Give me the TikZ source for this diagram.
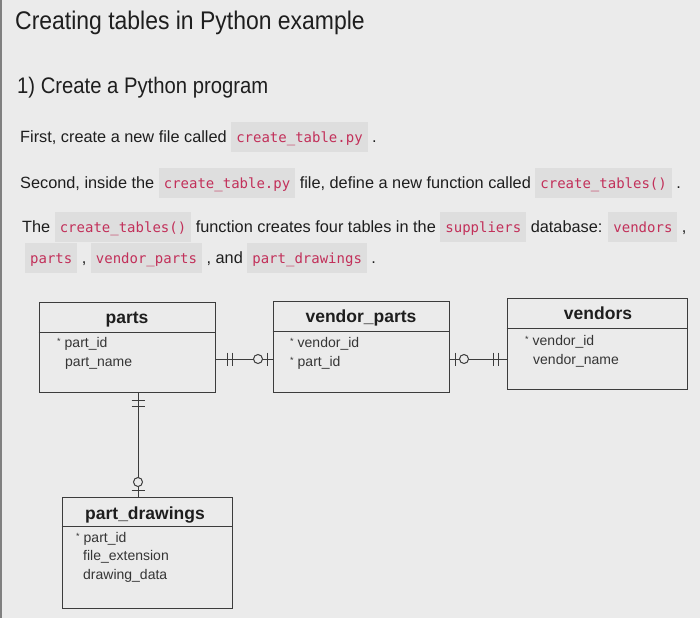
\documentclass[tikz,border=0pt]{standalone}
\usepackage{fontspec}
\setmainfont{Liberation Sans}
\setmonofont{DejaVu Sans Mono}
\newfontfamily\headfont[FakeStretch=0.9]{Liberation Sans}

\definecolor{pagebg}{HTML}{EBEBEB}
\definecolor{codebg}{HTML}{DEDEDE}
\definecolor{codered}{HTML}{C2305A}
\definecolor{ink}{HTML}{1E1E1E}
\definecolor{rule}{HTML}{3C3C3C}

\newcommand{\pyword}[1]{{\setlength{\fboxsep}{5pt}\colorbox{codebg}{\ttfamily\fontsize{14}{17}\selectfont\color{codered}\rule[-5pt]{0pt}{20pt}#1}}}
\newcommand{\keystar}{{\fontsize{9}{9}\selectfont\raisebox{3pt}{*}}\hspace{4pt}}

\begin{document}
\begin{tikzpicture}[x=1pt,y=-1pt]

\tikzstyle{textline}=[anchor=base west,inner sep=0pt,text=ink,font=\fontsize{16.3}{19}\selectfont]
\tikzstyle{table}=[rectangle,draw=rule,line width=1pt,fill=pagebg,inner sep=0pt]
\tikzstyle{tabletitle}=[anchor=base,inner sep=0pt,text=ink,font=\bfseries\fontsize{17.5}{20}\selectfont]
\tikzstyle{field}=[anchor=base west,inner sep=0pt,text=ink!90,font=\fontsize{14}{16}\selectfont]
\tikzstyle{link}=[draw=rule,line width=1pt]

\fill[pagebg] (0,0) rectangle (700,618);
\useasboundingbox (0,0) rectangle (700,618);
\draw[gray,line width=1.5pt] (1,0) -- (1,618);

% text
\node[textline,font=\headfont\fontsize{25.5}{30}\selectfont] (title) at (15,30) {Creating tables in Python example};
\node[textline,font=\headfont\fontsize{22.5}{26}\selectfont] (step) at (17,93) {1) Create a Python program};
\node[textline] (l1) at (20,142) {First, create a new file called \pyword{create\_table.py} .};
\node[textline] (l2) at (20,188) {Second, inside the \pyword{create\_table.py} file, define a new function called \pyword{create\_tables()} .};
\node[textline] (l3) at (22,232) {The \pyword{create\_tables()} function creates four tables in the \pyword{suppliers} database: \pyword{vendors} ,};
\node[textline] (l4) at (25,263) {\pyword{parts} , \pyword{vendor\_parts} , and \pyword{part\_drawings} .};

% tables
\node[table,minimum width=176pt,minimum height=90pt] (parts) at (127,347) {};
\node[table,minimum width=176pt,minimum height=91pt] (vparts) at (361,346.5) {};
\node[table,minimum width=180pt,minimum height=91pt] (vendors) at (597,343.5) {};
\node[table,minimum width=170pt,minimum height=111pt] (drawings) at (147,552.5) {};

\draw[link] ([yshift=-31pt]parts.north west) -- ([yshift=-31pt]parts.north east);
\draw[link] ([yshift=-31pt]vparts.north west) -- ([yshift=-31pt]vparts.north east);
\draw[link] ([yshift=-31pt]vendors.north west) -- ([yshift=-31pt]vendors.north east);
\draw[link] ([yshift=-30pt]drawings.north west) -- ([yshift=-30pt]drawings.north east);

\node[tabletitle] (t1) at (127,323) {parts};
\node[tabletitle] (t2) at (361,322) {vendor\_parts};
\node[tabletitle] (t3) at (598,319) {vendors};
\node[tabletitle] (t4) at (145,519) {part\_drawings};

\node[field] (f1) at (57,347) {\keystar part\_id};
\node[field] (f2) at (65,366) {part\_name};
\node[field] (f3) at (290,347) {\keystar vendor\_id};
\node[field] (f4) at (290,366) {\keystar part\_id};
\node[field] (f5) at (525,345) {\keystar vendor\_id};
\node[field] (f6) at (533,364) {vendor\_name};
\node[field] (f7) at (76,542) {\keystar part\_id};
\node[field] (f8) at (83,560) {file\_extension};
\node[field] (f9) at (83,579) {drawing\_data};

% parts -- vendor_parts
\draw[link] (parts.east |- 0,359) -- (vparts.west |- 0,359);
\draw[link] (227,352.5) -- (227,365.5);
\draw[link] (232,352.5) -- (232,365.5);
\draw[link,fill=pagebg] (258,359) circle (4.5pt);
\draw[link] (267,352.5) -- (267,365.5);

% vendor_parts -- vendors
\draw[link] (vparts.east |- 0,359) -- (vendors.west |- 0,359);
\draw[link] (455,352.5) -- (455,365.5);
\draw[link,fill=pagebg] (464,359) circle (4.5pt);
\draw[link] (493,352.5) -- (493,365.5);
\draw[link] (498,352.5) -- (498,365.5);

% parts -- part_drawings
\draw[link] (parts.south -| 138,0) -- (drawings.north -| 138,0);
\draw[link] (131.5,400) -- (144.5,400);
\draw[link] (131.5,406) -- (144.5,406);
\draw[link,fill=pagebg] (138,482) circle (4.5pt);
\draw[link] (131.5,490) -- (144.5,490);

\end{tikzpicture}
\end{document}
